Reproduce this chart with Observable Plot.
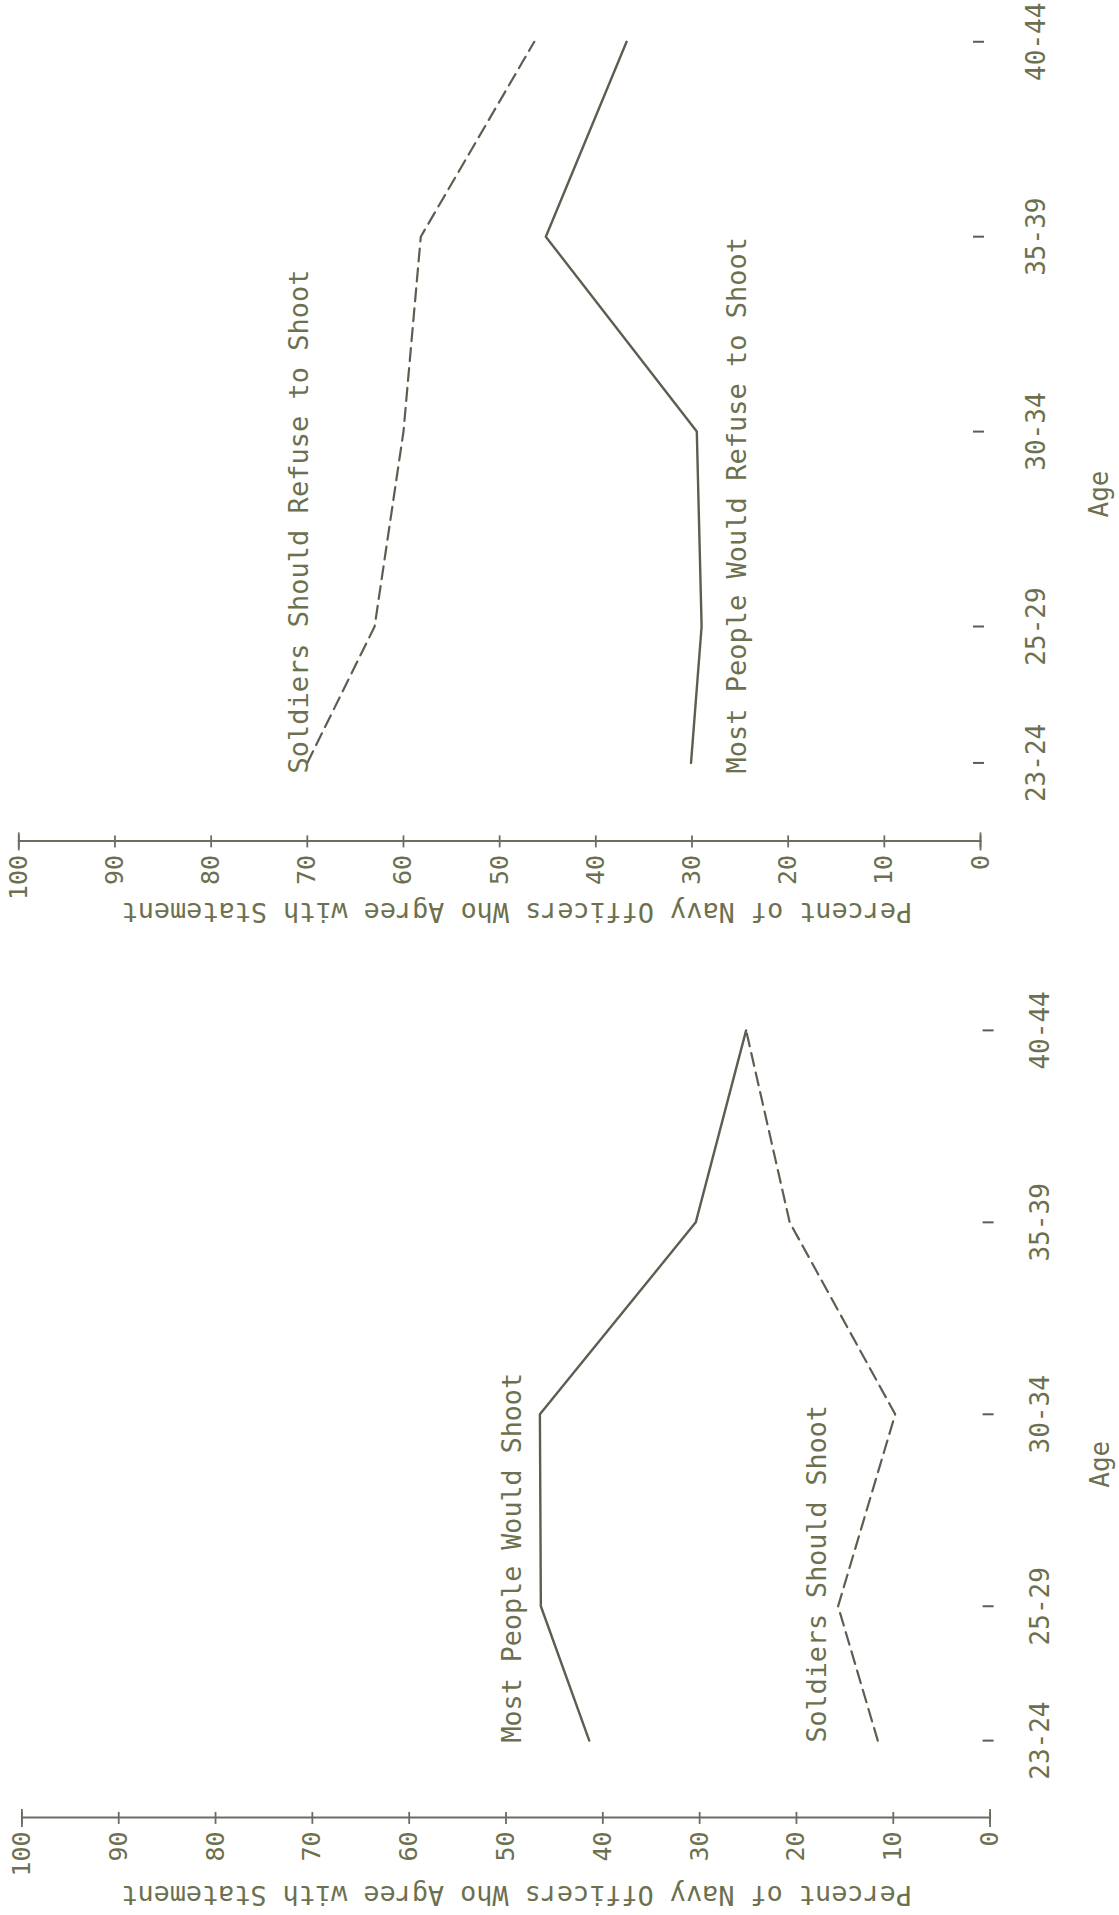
<!DOCTYPE html>
<html>
<head>
<meta charset="utf-8">
<script src="https://cdn.jsdelivr.net/npm/d3@7"></script>
<script src="https://cdn.jsdelivr.net/npm/@observablehq/plot@0.6"></script>
<style>
  html, body { margin: 0; padding: 0; background: #fff; }
  #page { position: relative; width: 1119px; height: 1915px; overflow: hidden; background: #fff; }
  .panel { position: absolute; left: 0; transform-origin: 0 0; transform: rotate(-90deg); }
</style>
</head>
<body>
<div id="page"></div>
<script>
// ---- data ----
const ageLabels = ["23-24", "25-29", "30-34", "35-39", "40-44"];
const ageMid = [23.5, 27, 32, 37, 42];
const pctTicks = [0, 10, 20, 30, 40, 50, 60, 70, 80, 90, 100];

// "Refuse" panel (upper)
const refuseSoldiers = [70, 63, 60, 58.2, 46.4];      // dashed
const refuseMostPeople = [30.1, 29, 29.5, 45.2, 36.8]; // solid
const refuseLabels = ["Soldiers Should Refuse to Shoot", "Most People Would Refuse to Shoot"];
const refuseLabelAt = [69.9, 24.4];

// "Shoot" panel (lower)
const shootMostPeople = [41.4, 46.4, 46.5, 30.4, 25.2]; // solid
const shootSoldiers = [11.6, 15.7, 9.8, 20.7, 25.2];     // dashed
const shootLabels = ["Most People Would Shoot", "Soldiers Should Shoot"];
const shootLabelAt = [48.5, 16.9];

const xTitle = "Age";
const yTitle = "Percent of Navy Officers Who Agree with Statement";

// ---- drawing ----
const ink = "#5b5f50";
const axisInk = "#6a6e60";
const txt = "#6c704e";
const fmtAge = d => ageLabels[ageMid.indexOf(d)];
const rows = s => ageMid.map((a, i) => ({age: a, v: s[i]}));

function panel(cfg) {
  const chart = Plot.plot({
    width: cfg.W,
    height: 1119,
    marginLeft: cfg.mL,
    marginRight: cfg.mR,
    marginTop: cfg.mT,
    marginBottom: cfg.mB,
    style: {fontFamily: "'DejaVu Sans Mono', monospace", color: txt, background: "transparent", overflow: "visible"},
    x: {domain: [21.5, 43], axis: null},
    y: {domain: [0, 100], axis: null},
    marks: [
      Plot.frame({anchor: "left", stroke: axisInk, strokeWidth: 2}),
      Plot.axisY({ticks: pctTicks, tickSize: 12, dx: 6, text: null, stroke: axisInk, strokeWidth: 1.8, label: null}),
      Plot.axisY({ticks: [0, 100], tickSize: 18, dx: 9, text: null, stroke: axisInk, strokeWidth: 1.8, label: null}),
      Plot.axisY({ticks: pctTicks, tickSize: 0, tickPadding: 14, tickFormat: d => String(d), fontSize: 25, fill: txt, label: null}),
      Plot.axisX({ticks: ageMid, tickSize: 11, dy: -7, text: null, stroke: ink, strokeWidth: 2, label: null}),
      Plot.axisX({ticks: ageMid, tickSize: 0, tickPadding: cfg.xPad, tickFormat: fmtAge, fontSize: 26, fill: txt, label: null}),
      Plot.text([yTitle], {frameAnchor: "left", y: () => cfg.yTitleAt, dx: -cfg.yTitleOff, rotate: -90,
        text: d => d, textAnchor: "middle", lineAnchor: "bottom", fontSize: 26.8, fill: txt}),
      Plot.text([xTitle], {frameAnchor: "bottom", x: () => cfg.xTitleAt, dy: cfg.xTitleOff,
        text: d => d, textAnchor: "middle", lineAnchor: "middle", fontSize: 26, fill: txt}),
      Plot.line(rows(cfg.dashed), {x: "age", y: "v", stroke: ink, strokeWidth: 2.2, strokeDasharray: "13,7"}),
      Plot.line(rows(cfg.solid), {x: "age", y: "v", stroke: ink, strokeWidth: 2.4}),
      Plot.text(cfg.labels, {x: () => cfg.labelX, y: (d, i) => cfg.labelAt[i], text: d => d,
        textAnchor: "start", lineAnchor: "bottom", fontSize: cfg.labelSize, fill: txt})
    ]
  });
  const div = document.createElement("div");
  div.className = "panel";
  div.style.top = cfg.Tb + "px";
  div.appendChild(chart);
  document.getElementById("page").appendChild(div);
}

panel({
  W: 960, Tb: 960, mL: 118.6, mR: 3.3, mT: 18.3, mB: 139,
  xPad: 46, yTitleAt: 48.2, yTitleOff: 62, xTitleAt: 30.4, xTitleOff: 119,
  dashed: refuseSoldiers, solid: refuseMostPeople,
  labels: refuseLabels, labelAt: refuseLabelAt, labelX: 23.23, labelSize: 27
});
panel({
  W: 955, Tb: 1915, mL: 97.1, mR: 32.5, mT: 21.4, mB: 129.4,
  xPad: 40, yTitleAt: 48.9, yTitleOff: 69, xTitleAt: 30.7, xTitleOff: 111,
  dashed: shootSoldiers, solid: shootMostPeople,
  labels: shootLabels, labelAt: shootLabelAt, labelX: 23.45, labelSize: 26.7
});
</script>
</body>
</html>
